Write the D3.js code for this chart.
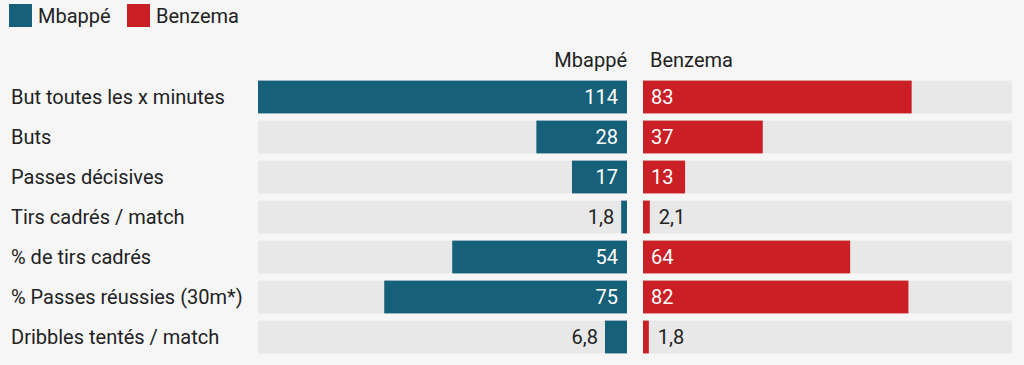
<!DOCTYPE html>
<html>
<head>
<meta charset="utf-8">
<script src="https://cdn.jsdelivr.net/npm/d3@7"></script>
<style>
  html, body { margin: 0; padding: 0; background: #f6f6f6; }
  svg { display: block; font-family: Roboto, sans-serif; }
</style>
</head>
<body>
<div id="vis"></div>
<script>
(function() {
    var width = 1024,
        height = 365;

    var stats = ["But toutes les x minutes", "Buts", "Passes décisives", "Tirs cadrés / match",
        "% de tirs cadrés", "% Passes réussies (30m*)", "Dribbles tentés / match"];
    var mbappe = [114, 28, 17, 1.8, 54, 75, 6.8];
    var benzema = [83, 37, 13, 2.1, 64, 82, 1.8];
    var players = ["Mbappé", "Benzema"];

    var colors = {
        blue: "#17607a",
        red: "#c91f25",
        track: "#e8e8e8",
        text: "#222222"
    };

    var fontSize = 20;

    var svg = d3.select("#vis")
        .append("svg")
        .attr("width", width)
        .attr("height", height);

    // legend
    var legend = svg.append("g").attr("transform", "translate(9,4)");
    var lx = [0, 118];
    players.forEach(function(p, i) {
        legend.append("rect")
            .attr("x", lx[i]).attr("y", 0)
            .attr("width", 23).attr("height", 23)
            .attr("fill", i === 0 ? colors.blue : colors.red);
        legend.append("text")
            .attr("x", lx[i] + 29).attr("y", 12)
            .attr("dy", "0.35em")
            .attr("font-size", fontSize)
            .attr("fill", colors.text)
            .text(p);
    });

    var y = d3.scaleBand().domain(stats).range([77, 357]).paddingInner(0.18).paddingOuter(0.09);
    var x = d3.scaleLinear().domain([0, 114]).range([0, 369]);

    var leftEnd = 627,
        rightStart = 643;

    // column headers
    svg.append("text")
        .attr("x", leftEnd).attr("y", 60).attr("dy", "0.35em")
        .attr("text-anchor", "end").attr("font-size", fontSize).attr("fill", colors.text)
        .text(players[0]);
    svg.append("text")
        .attr("x", rightStart + 7).attr("y", 60).attr("dy", "0.35em")
        .attr("font-size", fontSize).attr("fill", colors.text)
        .text(players[1]);

    var rows = svg.selectAll(".row")
        .data(stats)
        .enter().append("g")
        .attr("class", "row")
        .attr("transform", function(d) { return "translate(0," + y(d) + ")"; });

    rows.append("text")
        .attr("x", 11).attr("y", y.bandwidth() / 2).attr("dy", "0.35em")
        .attr("font-size", fontSize).attr("fill", colors.text)
        .text(function(d) { return d; });

    // tracks
    rows.append("rect")
        .attr("x", leftEnd - x(114)).attr("width", x(114))
        .attr("height", y.bandwidth()).attr("fill", colors.track);
    rows.append("rect")
        .attr("x", rightStart).attr("width", x(114))
        .attr("height", y.bandwidth()).attr("fill", colors.track);

    function fmt(v) { return String(v).replace(".", ","); }

    // Mbappé bars
    rows.append("rect")
        .attr("x", function(d, i) { return leftEnd - x(mbappe[i]); })
        .attr("width", function(d, i) { return x(mbappe[i]); })
        .attr("height", y.bandwidth())
        .attr("fill", colors.blue);
    rows.append("text")
        .attr("x", function(d, i) {
            var w = x(mbappe[i]);
            return w > 40 ? leftEnd - 9 : leftEnd - w - 7;
        })
        .attr("y", y.bandwidth() / 2).attr("dy", "0.35em")
        .attr("text-anchor", "end").attr("font-size", fontSize)
        .attr("fill", function(d, i) { return x(mbappe[i]) > 40 ? "#fff" : colors.text; })
        .text(function(d, i) { return fmt(mbappe[i]); });

    // Benzema bars
    rows.append("rect")
        .attr("x", rightStart)
        .attr("width", function(d, i) { return x(benzema[i]); })
        .attr("height", y.bandwidth())
        .attr("fill", colors.red);
    rows.append("text")
        .attr("x", function(d, i) {
            var w = x(benzema[i]);
            return w > 40 ? rightStart + 8 : rightStart + w + 9;
        })
        .attr("y", y.bandwidth() / 2).attr("dy", "0.35em")
        .attr("font-size", fontSize)
        .attr("fill", function(d, i) { return x(benzema[i]) > 40 ? "#fff" : colors.text; })
        .text(function(d, i) { return fmt(benzema[i]); });
})();
</script>
</body>
</html>
